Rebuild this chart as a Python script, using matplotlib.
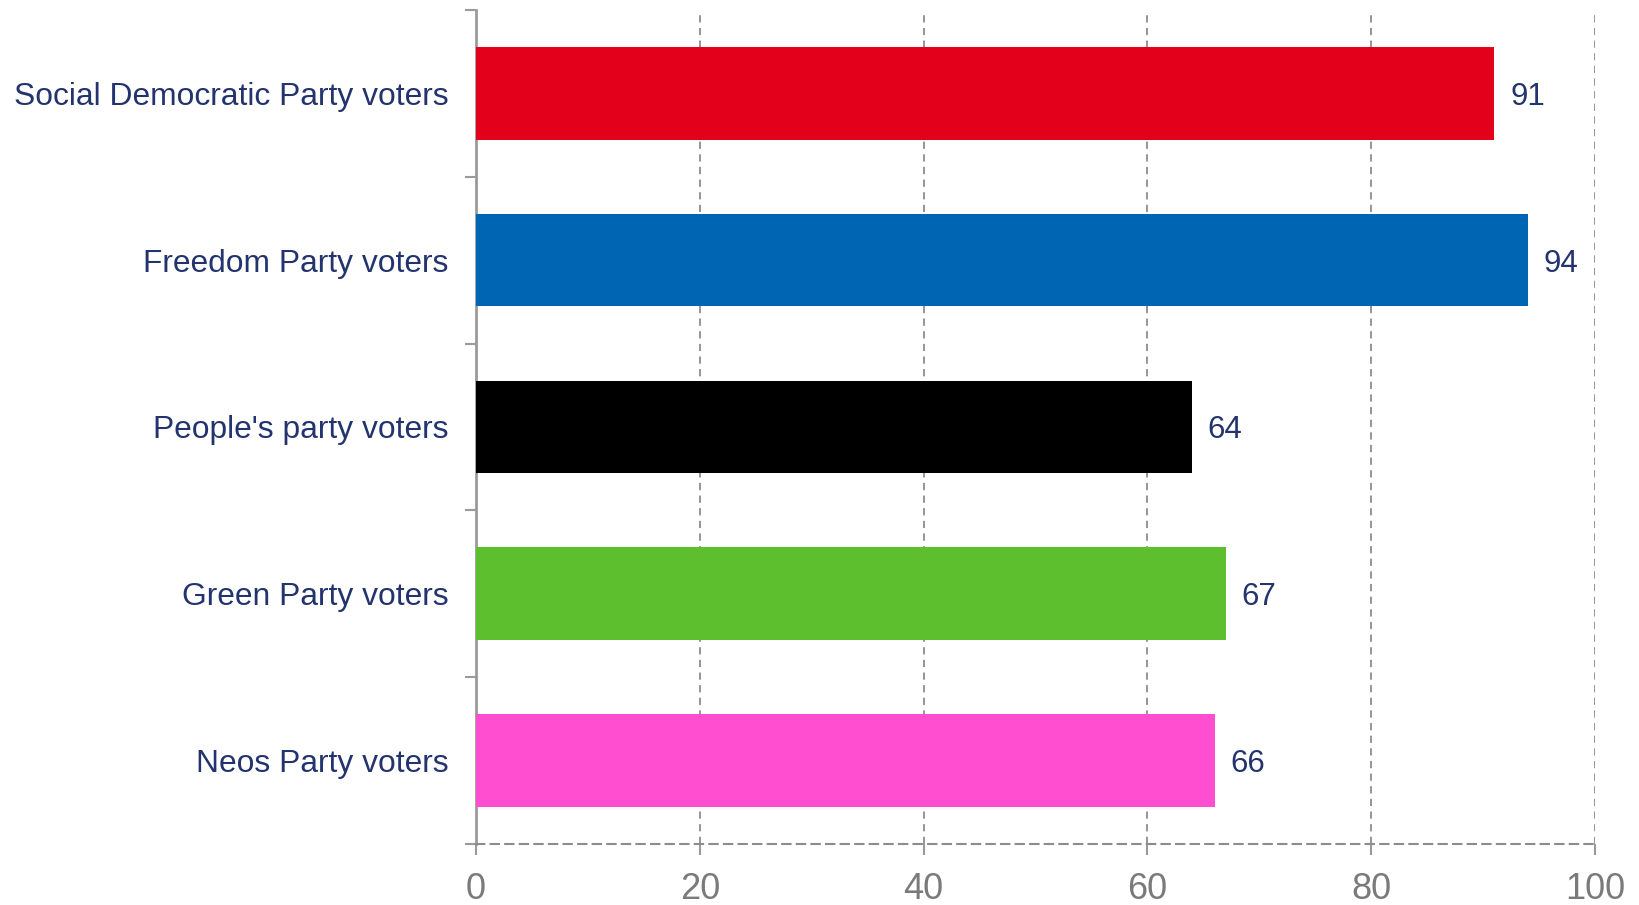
import matplotlib.pyplot as plt
from matplotlib.ticker import FixedLocator

plt.rcParams['font.family'] = ['Liberation Sans', 'DejaVu Sans']

categories = ["Social Democratic Party voters", "Freedom Party voters",
              "People's party voters", "Green Party voters", "Neos Party voters"]
values = [91, 94, 64, 67, 66]
colors = ["#E3001B", "#0066B3", "#000000", "#5DBE2E", "#FF4FD0"]
xticks = [0, 20, 40, 60, 80, 100]

label_color = "#23336E"
axis_gray = "#9A9A9A"

fig = plt.figure(figsize=(16.39, 9.05), dpi=100)
ax = fig.add_axes([0.2904, 0.0676, 0.6828, 0.9214])

ypos = list(range(len(categories)))
ax.barh(ypos, values, height=0.555, color=colors, zorder=3)

for y, v in zip(ypos, values):
    ax.text(v + 1.4, y, str(v), va='center_baseline', ha='left', fontsize=22.5, color=label_color)

ax.set_xlim(0, 100)
ax.set_ylim(len(categories) - 0.5, -0.5)

ax.set_xticks(xticks)
ax.set_xticklabels([str(t) for t in xticks], fontsize=26, color="#7A7A7A")
ax.set_yticks(ypos)
ax.set_yticklabels(categories, fontsize=22.9, color=label_color)
ax.tick_params(axis='y', which='major', length=0, pad=20)
ax.yaxis.set_minor_locator(FixedLocator([i + 0.5 for i in range(-1, len(categories))]))
ax.tick_params(axis='y', which='minor', length=8, width=1.5, color=axis_gray, left=True)
ax.tick_params(axis='x', length=8, width=1.5, color=axis_gray, pad=12)

ax.grid(axis='x', linestyle=(0, (4, 3)), color="#8C8C8C", linewidth=1.3, zorder=0)

for s in ['top', 'right']:
    ax.spines[s].set_visible(False)
ax.spines['left'].set_color(axis_gray)
ax.spines['left'].set_linewidth(2)
ax.spines['bottom'].set_color("#8C8C8C")
ax.spines['bottom'].set_linewidth(1.5)
ax.spines['bottom'].set_linestyle((0, (4, 3)))

fig.savefig("out.png", dpi=100)
